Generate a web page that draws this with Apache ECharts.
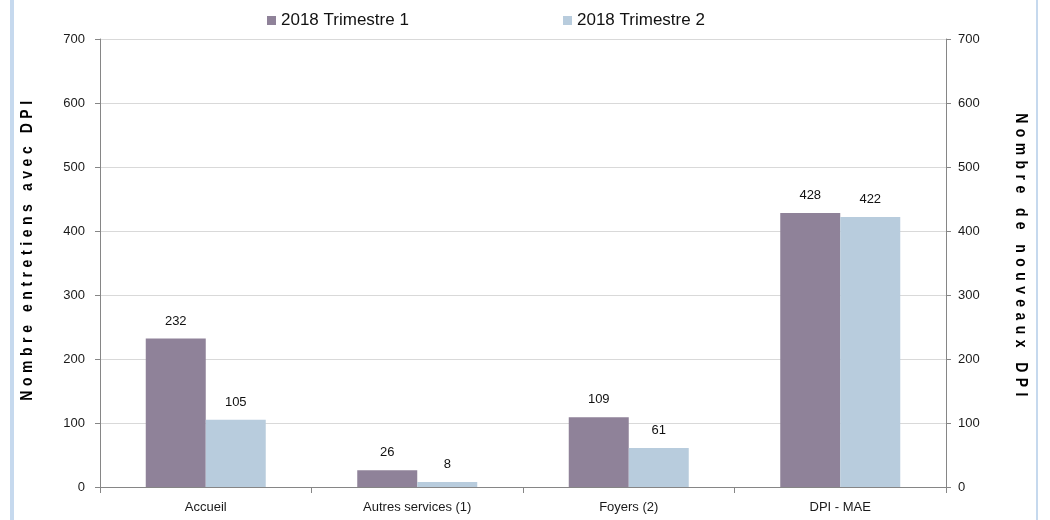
<!DOCTYPE html>
<html>
<head>
<meta charset="utf-8">
<script src="https://cdn.jsdelivr.net/npm/echarts@6/dist/echarts.min.js"></script>
<style>
  html, body { margin: 0; padding: 0; background: #fff; }
  #wrap { position: relative; width: 1050px; height: 520px; overflow: hidden; }
  #chart { position: absolute; left: 0; top: 0; width: 1050px; height: 520px; }
  .frame { position: absolute; top: 0; height: 520px; background: #c6d9ee; }
  .ytitle { position: absolute; font-weight: bold; color: #000; white-space: nowrap; transform-origin: center center; line-height: 1; }
</style>
</head>
<body>
<div id="wrap">
  <div id="chart"></div>
  <div class="frame" style="left:10px;width:4px;"></div>
  <div class="frame" style="left:1036px;width:2px;"></div>
  <div class="ytitle" id="tl"></div>
  <div class="ytitle" id="tr"></div>
</div>
<script>
const categories = ["Accueil", "Autres services (1)", "Foyers (2)", "DPI - MAE"];
const trimestre1 = [232, 26, 109, 428];
const trimestre2 = [105, 8, 61, 422];
const seriesNames = ["2018 Trimestre 1", "2018 Trimestre 2"];
const leftTitle = "Nombre entretiens avec DPI";
const rightTitle = "Nombre de nouveaux DPI";

function hasFont(name) {
  const c = document.createElement("canvas").getContext("2d");
  const s = "NombreentretiensavecDPI mmmwwwiii";
  c.font = "bold 20px monospace";
  const a = c.measureText(s).width;
  c.font = 'bold 20px "' + name + '", monospace';
  const b = c.measureText(s).width;
  return Math.abs(a - b) > 0.5;
}
const narrow = hasFont("Liberation Sans Narrow");

function placeTitle(id, text, cx, cy, deg, span) {
  const el = document.getElementById(id);
  el.textContent = text;
  el.style.fontSize = "17px";
  el.style.fontFamily = narrow ? '"Liberation Sans Narrow", sans-serif' : '"Liberation Sans", Arial, sans-serif';
  const sx = narrow ? 1 : 0.82;
  el.style.letterSpacing = "0px";
  const w0 = el.offsetWidth * sx;
  const n = text.length - 1;
  const ls = (span - w0) / n / sx;
  el.style.letterSpacing = ls + "px";
  const w = el.offsetWidth, h = el.offsetHeight;
  el.style.left = (cx - w / 2) + "px";
  el.style.top = (cy - h / 2) + "px";
  el.style.transform = "rotate(" + deg + "deg) scaleX(" + sx + ")";
}
placeTitle("tl", leftTitle, 26, 248, -90, 300);
placeTitle("tr", rightTitle, 1022, 257, 90, 283);

const chart = echarts.init(document.getElementById("chart"), null, { renderer: "canvas" });
const font = "Liberation Sans";
const axisLine = { show: true, lineStyle: { color: "#868686", width: 1 } };
const valueAxisCommon = {
  type: "value", min: 0, max: 700, interval: 100,
  axisLine: axisLine,
  axisTick: { show: true, inside: false, length: 5, lineStyle: { color: "#868686" } },
};
const legendText = { fontFamily: font, fontSize: 17, color: "#111" };
chart.setOption({
  animation: false,
  textStyle: { fontFamily: font },
  legend: [
    { left: 262, top: 7, icon: "rect", itemWidth: 9, itemHeight: 9, itemGap: 8,
      data: [seriesNames[0]], textStyle: legendText },
    { left: 558, top: 7, icon: "rect", itemWidth: 9, itemHeight: 9, itemGap: 8,
      data: [seriesNames[1]], textStyle: legendText }
  ],
  grid: { left: 100, right: 104, top: 39, bottom: 33, containLabel: false },
  xAxis: {
    type: "category", data: categories,
    axisLine: axisLine,
    axisTick: { show: true, length: 6, lineStyle: { color: "#868686" } },
    axisLabel: { fontFamily: font, fontSize: 13, color: "#1a1a1a", margin: 14 },
  },
  yAxis: [
    Object.assign({}, valueAxisCommon, { position: "left",
      axisLabel: { fontFamily: font, fontSize: 13, color: "#1a1a1a", margin: 15 },
      splitLine: { show: true, lineStyle: { color: "#d9d9d9", width: 1 } } }),
    Object.assign({}, valueAxisCommon, { position: "right",
      axisLabel: { fontFamily: font, fontSize: 13, color: "#1a1a1a", margin: 12 },
      splitLine: { show: false } })
  ],
  series: [
    { name: seriesNames[0], type: "bar", data: trimestre1, yAxisIndex: 0,
      barWidth: 60, barGap: "0%",
      itemStyle: { color: "#8f8299" },
      label: { show: true, position: "top", distance: 11, fontFamily: font, fontSize: 13, color: "#111" } },
    { name: seriesNames[1], type: "bar", data: trimestre2, yAxisIndex: 0,
      barWidth: 60, barGap: "0%",
      itemStyle: { color: "#b8ccdd" },
      label: { show: true, position: "top", distance: 11, fontFamily: font, fontSize: 13, color: "#111" } }
  ]
});
</script>
</body>
</html>
